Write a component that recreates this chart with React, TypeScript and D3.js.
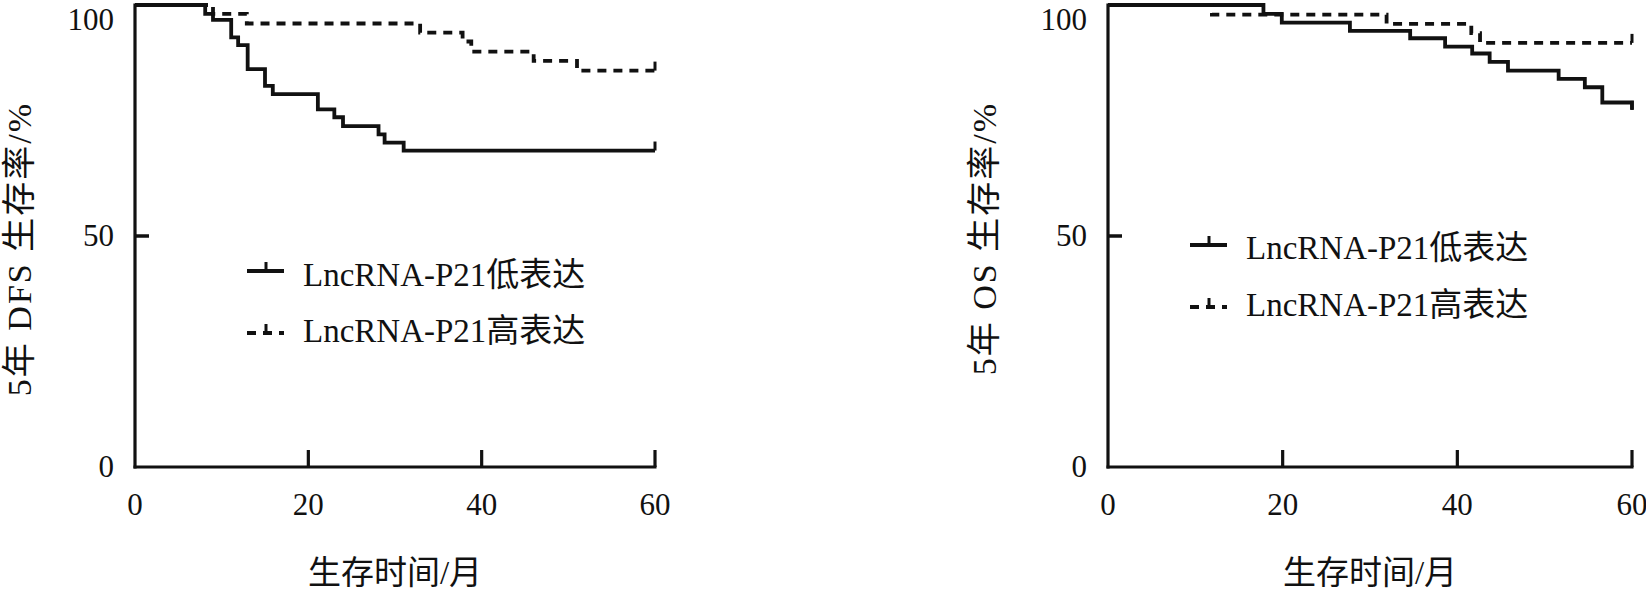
import React from 'react';
import * as d3 from 'd3';

// ---- data (months, survival %) ----
const xTicks = [0, 20, 40, 60];
const yTicks = [0, 50, 100];

const dfsLowTimes = [0, 8.1, 9.0, 11.1, 11.9, 13.0, 15.0, 15.9, 21.1, 23.0, 24.0, 28.1, 28.8, 31.0, 60];
const dfsLowSurv = [100, 98.1, 96.8, 93.0, 91.3, 86.1, 82.5, 80.7, 77.4, 75.7, 73.8, 72.0, 70.2, 68.5, 68.5];

const dfsHighTimes = [0, 9.0, 12.9, 32.9, 37.8, 38.8, 46.0, 51.0, 60];
const dfsHighSurv = [100, 98.1, 96.0, 94.0, 92.1, 89.9, 87.9, 85.8, 85.8];

const osLowTimes = [0, 17.8, 19.9, 27.7, 34.6, 38.6, 41.7, 43.7, 45.8, 51.6, 54.6, 56.6, 60];
const osLowSurv = [100, 98.1, 96.2, 94.4, 92.8, 91.0, 89.5, 87.7, 85.8, 84.0, 82.2, 78.9, 77.3];

const osHighTimes = [0, 11.9, 31.9, 41.6, 42.6, 60];
const osHighSurv = [100, 97.9, 95.9, 93.9, 91.8, 91.8];

const legendLabels = ['LncRNA-P21低表达', 'LncRNA-P21高表达'];
const xTitle = '生存时间/月';
const yTitles = ['5年 DFS 生存率/%', '5年 OS 生存率/%'];

const FONT = "'Liberation Serif', 'Times New Roman', serif, 'Noto Sans CJK SC'";
const INK = '#111';

type PanelProps = {
  x0: number;
  x1: number;
  yTitle: string;
  titleX: number;
  lowT: number[];
  lowS: number[];
  highT: number[];
  highS: number[];
  legX: number;
  legLineY: number[];
  legTextY: number[];
};

function Panel(p: PanelProps) {
  const x = d3.scaleLinear().domain([0, 60]).range([p.x0, p.x1]);
  const y = d3.scaleLinear().domain([0, 100]).range([467, 5]);
  const line = d3
    .line<[number, number]>()
    .x((d) => x(d[0]))
    .y((d) => y(d[1]))
    .curve(d3.curveStepAfter);
  const low: [number, number][] = p.lowT.map((t, i) => [t, p.lowS[i]]);
  const high: [number, number][] = p.highT.map((t, i) => [t, p.highS[i]]);
  const lowEnd = p.lowS[p.lowS.length - 1];
  const highEnd = p.highS[p.highS.length - 1];
  const dash = '9,7';
  const sw = 3.8;
  return (
    <g>
      <path d={line(low) || ''} fill="none" stroke={INK} strokeWidth={sw} />
      <path d={line(high) || ''} fill="none" stroke={INK} strokeWidth={sw} strokeDasharray={dash} />
      <line x1={x(60)} x2={x(60)} y1={y(lowEnd)} y2={y(lowEnd) - 9} stroke={INK} strokeWidth={3} />
      <line x1={x(60)} x2={x(60)} y1={y(highEnd)} y2={y(highEnd) - 9} stroke={INK} strokeWidth={3} />
      <line x1={p.x0} x2={p.x0} y1={y(100) - 1.5} y2={y(0) + 1.5} stroke={INK} strokeWidth={3.2} />
      <line x1={p.x0 - 1.5} x2={p.x1 + 1.5} y1={y(0)} y2={y(0)} stroke={INK} strokeWidth={3.2} />
      {yTicks.map((v) => (
        <g key={'y' + v}>
          {v > 0 && <line x1={p.x0} x2={p.x0 + 14} y1={y(v)} y2={y(v)} stroke={INK} strokeWidth={3.5} />}
          <text
            x={p.x0 - 21}
            y={Math.max(y(v) + 10, 30)}
            textAnchor="end"
            fontFamily={FONT}
            fontSize={31}
            fill={INK}
          >
            {v}
          </text>
        </g>
      ))}
      {xTicks.map((v) => (
        <g key={'x' + v}>
          {v > 0 && <line x1={x(v)} x2={x(v)} y1={y(0)} y2={y(0) - 17} stroke={INK} strokeWidth={3.2} />}
          <text x={x(v)} y={515} textAnchor="middle" fontFamily={FONT} fontSize={31} fill={INK}>
            {v}
          </text>
        </g>
      ))}
      <text x={(p.x0 + p.x1) / 2} y={584} textAnchor="middle" fontFamily={FONT} fontSize={33} fill={INK}>
        {xTitle}
      </text>
      <text
        transform={`translate(${p.titleX},102) rotate(-90)`}
        textAnchor="end"
        fontFamily={FONT}
        fontSize={34}
        letterSpacing={2}
        fill={INK}
      >
        {p.yTitle}
      </text>
      {legendLabels.map((lab, i) => {
        const ly = p.legLineY[i];
        return (
          <g key={lab}>
            <line
              x1={p.legX}
              x2={p.legX + 37}
              y1={ly}
              y2={ly}
              stroke={INK}
              strokeWidth={sw}
              strokeDasharray={i === 1 ? dash : undefined}
            />
            <line x1={p.legX + 19} x2={p.legX + 19} y1={ly} y2={ly - 9} stroke={INK} strokeWidth={3} />
            <text x={p.legX + 56} y={p.legTextY[i]} fontFamily={FONT} fontSize={33} fill={INK}>
              {lab}
            </text>
          </g>
        );
      })}
    </g>
  );
}

export default function App() {
  return (
    <svg
      width={1646}
      height={593}
      viewBox="0 0 1646 593"
      style={{ position: 'absolute', left: 0, top: 0, background: '#fff' }}
    >
      <rect width={1646} height={593} fill="#fff" />
      <Panel
        x0={135}
        x1={655}
        yTitle={yTitles[0]}
        titleX={31}
        lowT={dfsLowTimes}
        lowS={dfsLowSurv}
        highT={dfsHighTimes}
        highS={dfsHighSurv}
        legX={247}
        legLineY={[271, 333]}
        legTextY={[286, 342]}
      />
      <Panel
        x0={1108}
        x1={1632}
        yTitle={yTitles[1]}
        titleX={996}
        lowT={osLowTimes}
        lowS={osLowSurv}
        highT={osHighTimes}
        highS={osHighSurv}
        legX={1190}
        legLineY={[245, 307]}
        legTextY={[259, 316]}
      />
    </svg>
  );
}
